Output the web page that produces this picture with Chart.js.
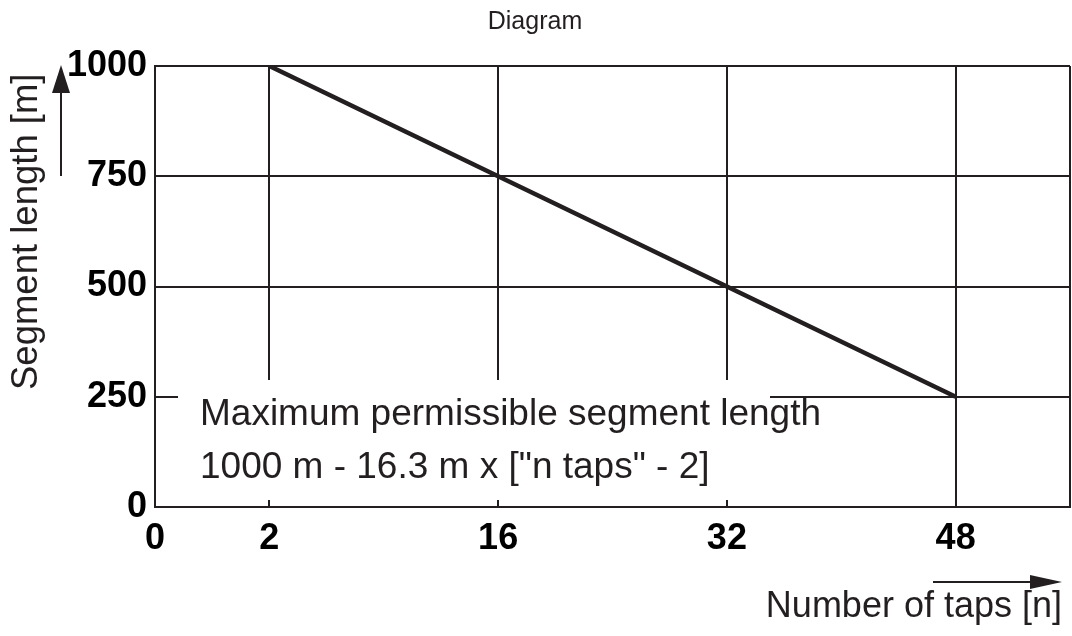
<!DOCTYPE html>
<html>
<head>
<meta charset="utf-8">
<script src="https://cdn.jsdelivr.net/npm/chart.js@4/dist/chart.umd.min.js"></script>
<style>
  html, body { margin: 0; padding: 0; background: #fff; }
  #wrap { width: 1072px; height: 636px; }
</style>
</head>
<body>
<div id="wrap"><canvas id="diagram"></canvas></div>
<script>
// number of taps shown on the x axis (category labels)
const tapLabels = ['2', '16', '32', '48'];
// maximum segment length [m] at those taps
const segmentLength = [1000, 750, 500, 250];
const yTicks = [0, 250, 500, 750, 1000];
const noteLines = ['Maximum permissible segment length', '1000 m - 16.3 m x ["n taps" - 2]'];

const ink = '#231f20';
const fontFamily = '"Liberation Sans", Arial, sans-serif';

function arrow(ctx, x1, y1, x2, y2, head, half) {
    const ang = Math.atan2(y2 - y1, x2 - x1);
    const bx = x2 - Math.cos(ang) * head;
    const by = y2 - Math.sin(ang) * head;
    ctx.beginPath();
    ctx.moveTo(x1, y1);
    ctx.lineTo(bx, by);
    ctx.lineWidth = 2;
    ctx.strokeStyle = ink;
    ctx.stroke();
    ctx.beginPath();
    ctx.moveTo(x2, y2);
    ctx.lineTo(bx - Math.sin(ang) * half, by + Math.cos(ang) * half);
    ctx.lineTo(bx + Math.sin(ang) * half, by - Math.cos(ang) * half);
    ctx.closePath();
    ctx.fillStyle = ink;
    ctx.fill();
}

const decorations = {
    id: 'decorations',
    beforeDatasetsDraw(chart) {
        // white note box that hides the grid below the formula
        const ctx = chart.ctx;
        const a = chart.chartArea;
        ctx.save();
        ctx.fillStyle = '#fff';
        ctx.fillRect(a.left + 23, 380, 592, a.bottom - 7 - 380);
        ctx.fillStyle = ink;
        ctx.font = '37px ' + fontFamily;
        ctx.textAlign = 'left';
        ctx.textBaseline = 'alphabetic';
        ctx.fillText(noteLines[0], a.left + 45, 425);
        ctx.fillText(noteLines[1], a.left + 45, 478);
        ctx.restore();
    },
    afterDraw(chart) {
        const ctx = chart.ctx;
        const a = chart.chartArea;
        ctx.save();
        // y axis title, rotated
        ctx.translate(37, 390);
        ctx.rotate(-Math.PI / 2);
        ctx.fillStyle = ink;
        ctx.font = '36.5px ' + fontFamily;
        ctx.textAlign = 'left';
        ctx.textBaseline = 'alphabetic';
        ctx.fillText('Segment length [m]', 0, 0);
        ctx.restore();

        ctx.save();
        ctx.fillStyle = ink;
        ctx.font = '36px ' + fontFamily;
        ctx.textAlign = 'right';
        ctx.textBaseline = 'alphabetic';
        ctx.fillText('Number of taps [n]', 1062, 617);
        arrow(ctx, 61, 176, 61, a.top - 1, 28, 9);
        arrow(ctx, 933, 582, 1062, 582, 32, 7);
        ctx.restore();
    }
};

new Chart(document.getElementById('diagram'), {
    type: 'line',
    data: {
        labels: tapLabels,
        datasets: [{
            data: segmentLength,
            borderColor: ink,
            borderWidth: 4.5,
            pointRadius: 0,
            tension: 0,
            fill: false
        }]
    },
    options: {
        responsive: true,
        maintainAspectRatio: false,
        animation: false,
        layout: { padding: { top: 0, right: 2, bottom: 0, left: 0 } },
        plugins: {
            legend: { display: false },
            tooltip: { enabled: false },
            title: {
                display: true,
                text: 'Diagram',
                color: ink,
                font: { family: fontFamily, size: 25, weight: 'normal' },
                padding: { top: 7, bottom: 29 }
            }
        },
        scales: {
            x: {
                type: 'category',
                offset: true,
                afterBuildTicks(scale) {
                    // extra ticks at both edges: "0" on the left, frame line on the right
                    scale.ticks = [{ value: -0.5 }, ...scale.ticks, { value: tapLabels.length - 0.5 }];
                },
                afterFit(scale) {
                    scale.height = 129;
                    scale.paddingLeft = 0;
                    scale.paddingRight = 0;
                },
                grid: { color: ink, lineWidth: 2, drawTicks: false, offset: false },
                border: { display: true, color: ink, width: 2 },
                ticks: {
                    autoSkip: false,
                    maxRotation: 0,
                    padding: 10,
                    color: '#000',
                    font: { family: fontFamily, size: 36, weight: 'bold' },
                    callback(value) {
                        if (value < 0) return '0';
                        return tapLabels[value] !== undefined ? tapLabels[value] : '';
                    }
                }
            },
            y: {
                min: 0,
                max: 1000,
                afterBuildTicks(scale) {
                    scale.ticks = yTicks.map(v => ({ value: v }));
                },
                afterFit(scale) { scale.width = 155; },
                grid: { color: ink, lineWidth: 2, drawTicks: false },
                border: { display: true, color: ink, width: 2 },
                ticks: {
                    padding: 8,
                    color: '#000',
                    font: { family: fontFamily, size: 36, weight: 'bold' },
                    callback(value) { return String(value); }
                }
            }
        }
    },
    plugins: [decorations]
});
</script>
</body>
</html>
